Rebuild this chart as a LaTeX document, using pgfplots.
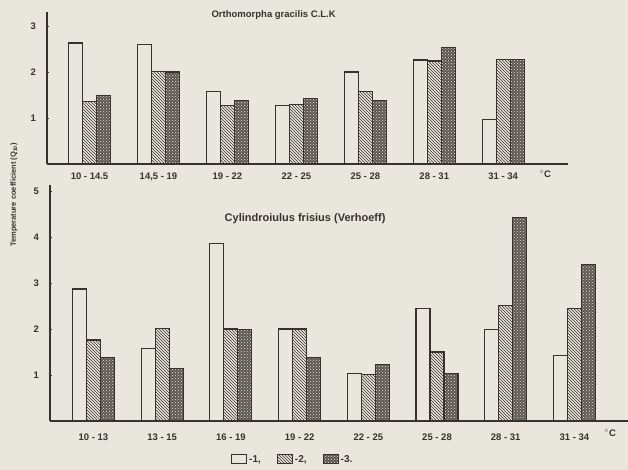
\documentclass[border=0pt]{standalone}
\usepackage{pgfplots}
\pgfplotsset{compat=1.18}
\usetikzlibrary{patterns}
\usepackage{fontspec}
\setmainfont{Liberation Sans}
\definecolor{paper}{RGB}{233,231,221}
\definecolor{ink}{RGB}{55,50,45}
\begin{document}
\begin{tikzpicture}[x=1pt,y=1pt]
\fill[paper] (0,0) rectangle (628,470);
\pgfplotsset{
  myax/.style={
    scale only axis,
    axis lines=left,
    axis line style={-, line width=1.4pt, ink},
    ybar=0pt, bar width=14pt,
    ymin=0,
    xtick=data,
    xtick style={draw=none},
    ytick style={ink, line width=0.8pt},
    major tick length=3pt,
    tick label style={font=\bfseries\fontsize{9.5}{10}\selectfont, text=ink},
    /pgf/number format/assume math mode=true,
    yticklabel style={xshift=-6pt},
    xticklabel style={yshift=-2pt},
    clip=false,
  },
  s1/.style={draw=ink, line width=1.1pt, fill=paper,
    legend image code/.code={\draw[##1] (0pt,-3.5pt) rectangle (15pt,5.5pt);}},
  s2/.style={draw=ink, line width=1.1pt, fill=paper, postaction={pattern=north west lines, pattern color=ink},
    legend image code/.code={\draw[##1] (0pt,-3.5pt) rectangle (15pt,5.5pt);}},
  s3/.style={draw=ink, line width=1.1pt, fill=ink!80!paper, postaction={pattern=crosshatch dots, pattern color=paper},
    legend image code/.code={\draw[##1] (0pt,-3.5pt) rectangle (15pt,5.5pt);}},
}
% top panel
\begin{axis}[myax,
  anchor=south west, at={(47pt,306pt)},
  width=521pt, height=151.8pt,
  xmin=-0.617, xmax=6.94, ymax=3.3,
  ytick={1,2,3},
  xticklabels={10 - 14.5, {14,5 - 19}, 19 - 22, 22 - 25, 25 - 28, 28 - 31, 31 - 34},
]
\addplot[s1] coordinates {(0,2.63)(1,2.59)(2,1.57)(3,1.28)(4,2.0)(5,2.26)(6,0.96)};
\addplot[s2] coordinates {(0,1.35)(1,2.02)(2,1.28)(3,1.3)(4,1.57)(5,2.24)(6,2.28)};
\addplot[s3] coordinates {(0,1.48)(1,2.0)(2,1.39)(3,1.43)(4,1.39)(5,2.54)(6,2.28)};
\node[font=\bfseries\fontsize{9.5}{10}\selectfont, text=ink] at (axis cs:2.67,3.24) {Orthomorpha gracilis C.L.K};
\node[font=\bfseries\fontsize{9.5}{10}\selectfont, text=ink, below] at (axis cs:6.61,-0.06) {$^\circ$C};
\end{axis}
% bottom panel
\begin{axis}[myax,
  anchor=south west, at={(50pt,49pt)},
  width=578pt, height=236pt,
  xmin=-0.633, xmax=7.78, ymax=5.13,
  ytick={1,2,3,4,5},
  xticklabels={10 - 13, 13 - 15, 16 - 19, 19 - 22, 22 - 25, 25 - 28, 28 - 31, 31 - 34},
  xticklabel style={yshift=-4pt},
  legend style={draw=none, fill=none, legend columns=3, at={(0.42,-0.165)}, anchor=center,
    font=\bfseries\fontsize{10}{11}\selectfont, text=ink,
    /tikz/every even column/.append style={column sep=14pt}},
]
\addplot[s1] coordinates {(0,2.87)(1,1.57)(2,3.85)(3,2.0)(4,1.04)(5,2.45)(6,1.98)(7,1.43)};
\addlegendentry{-1,}
\addplot[s2] coordinates {(0,1.76)(1,2.02)(2,2.0)(3,2.0)(4,1.02)(5,1.5)(6,2.52)(7,2.45)};
\addlegendentry{-2,}
\addplot[s3] coordinates {(0,1.39)(1,1.15)(2,1.98)(3,1.39)(4,1.22)(5,1.04)(6,4.43)(7,3.4)};
\addlegendentry{-3.}
\node[font=\bfseries\fontsize{11}{12}\selectfont, text=ink] at (axis cs:3.08,4.39) {Cylindroiulus frisius (Verhoeff)};
\node[font=\bfseries\fontsize{9.5}{10}\selectfont, text=ink, below] at (axis cs:7.52,-0.1) {$^\circ$C};
\end{axis}
\node[rotate=90, font=\bfseries\fontsize{7.5}{8}\selectfont, text=ink] at (14,275) {Temperature coefficient (Q\textsubscript{10})};
\pgfresetboundingbox
\path (0,0) rectangle (628,470);
\end{tikzpicture}
\end{document}
